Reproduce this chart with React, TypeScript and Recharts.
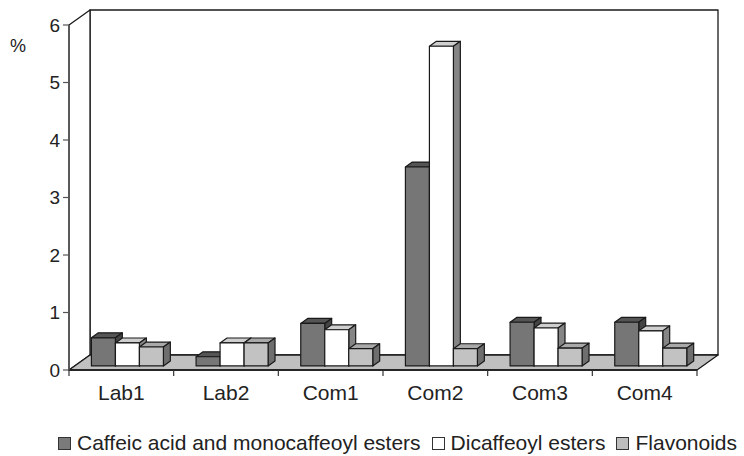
import React from 'react';
import { BarChart, Bar, XAxis, YAxis, ReferenceArea, Legend } from 'recharts';

const categories = ['Lab1', 'Lab2', 'Com1', 'Com2', 'Com3', 'Com4'];
const caffeicMono = [0.49, 0.16, 0.74, 3.46, 0.76, 0.76];
const dicaffeoyl = [0.4, 0.4, 0.63, 5.56, 0.66, 0.61];
const flavonoids = [0.33, 0.4, 0.3, 0.3, 0.31, 0.31];
const yTicks = [0, 1, 2, 3, 4, 5, 6];
const seriesNames = ['Caffeic acid and monocaffeoyl esters', 'Dicaffeoyl esters', 'Flavonoids'];

const data = categories.map((name, i) => ({
  name,
  caffeic: caffeicMono[i],
  dicaffeoyl: dicaffeoyl[i],
  flavonoids: flavonoids[i],
}));

const W = 744;
const H = 456;
const LEFT = 69;
const RIGHT = 47;
const TOP = 25;
const X_AXIS_H = 86;
const BAND = (W - LEFT - RIGHT) / categories.length;
// 3D depth of the floor
const DX = 21;
const DY = 15;
const FONT = '"Liberation Sans", Arial, sans-serif';
const EDGE = '#1a1a1a';

const palette = [
  { front: '#767676', top: '#555555', side: '#444444', legend: '#7a7a7a' },
  { front: '#ffffff', top: '#cfcfcf', side: '#858585', legend: '#ffffff' },
  { front: '#c2c2c2', top: '#a9a9a9', side: '#6e6e6e', legend: '#bdbdbd' },
];

const make3D = (c: { front: string; top: string; side: string }) => (props: any) => {
  const { x, y, width, height } = props;
  if (width == null || height == null) return null;
  const x0 = x + DX * 0.27;
  const y0 = y - DY * 0.27;
  const dx = DX * 0.33;
  const dy = DY * 0.33;
  const w = width;
  const h = height;
  return (
    <g stroke={EDGE} strokeWidth={1.2} strokeLinejoin='round'>
      <polygon
        points={`${x0},${y0} ${x0 + dx},${y0 - dy} ${x0 + w + dx},${y0 - dy} ${x0 + w},${y0}`}
        fill={c.top}
      />
      <polygon
        points={`${x0 + w},${y0} ${x0 + w + dx},${y0 - dy} ${x0 + w + dx},${y0 + h - dy} ${x0 + w},${y0 + h}`}
        fill={c.side}
      />
      <rect x={x0} y={y0} width={w} height={h} fill={c.front} />
    </g>
  );
};

const Walls = (props: any) => {
  const { x, y, width, height } = props;
  const b = y + height;
  return (
    <g stroke={EDGE} strokeWidth={1.3} strokeLinejoin='round'>
      <rect x={x + DX} y={y - DY} width={width} height={height} fill='#ffffff' />
      <polygon
        points={`${x},${y} ${x + DX},${y - DY} ${x + DX},${b - DY} ${x},${b}`}
        fill='#ffffff'
      />
      <polygon
        points={`${x},${b} ${x + width},${b} ${x + width + DX},${b - DY} ${x + DX},${b - DY}`}
        fill='#c0c0c0'
      />
    </g>
  );
};

const XTick = (props: any) => {
  const { x, y, payload, index } = props;
  const half = BAND / 2;
  return (
    <g>
      <line x1={x - half} y1={y} x2={x - half} y2={y + 6} stroke='#333' strokeWidth={1.2} />
      {index === categories.length - 1 && (
        <line x1={x + half} y1={y} x2={x + half} y2={y + 6} stroke='#333' strokeWidth={1.2} />
      )}
      <text x={x} y={y + 30} textAnchor='middle' fontSize={21} fill='#222' fontFamily={FONT}>
        {payload.value}
      </text>
    </g>
  );
};

const LegendContent = () => (
  <div
    style={{
      display: 'flex',
      alignItems: 'center',
      paddingLeft: 58,
      fontFamily: FONT,
      fontSize: 21,
      color: '#222',
      whiteSpace: 'nowrap',
    }}
  >
    {seriesNames.map((name, i) => (
      <div key={name} style={{ display: 'flex', alignItems: 'center', marginRight: 11 }}>
        <span
          style={{
            display: 'inline-block',
            width: 11,
            height: 11,
            border: '1.5px solid #333',
            background: palette[i].legend,
            marginRight: 6,
          }}
        />
        <span>{name}</span>
      </div>
    ))}
  </div>
);

export default function App() {
  return (
    <div style={{ position: 'absolute', left: 0, top: 0, width: W, height: H, background: '#fff' }}>
      <BarChart
        width={W}
        height={H}
        data={data}
        margin={{ top: TOP, right: RIGHT, left: 0, bottom: 0 }}
        barCategoryGap='16%'
        barGap={0}
      >
        <ReferenceArea y1={0} y2={6} shape={<Walls />} />
        <XAxis
          dataKey='name'
          height={X_AXIS_H}
          tickLine={false}
          tickSize={0}
          tickMargin={0}
          axisLine={{ stroke: EDGE, strokeWidth: 1.3 }}
          tick={<XTick />}
          interval={0}
        />
        <YAxis
          width={LEFT}
          domain={[0, 6]}
          ticks={yTicks}
          tickSize={6}
          tickMargin={3}
          axisLine={{ stroke: '#555', strokeWidth: 1.5 }}
          tickLine={{ stroke: '#555', strokeWidth: 1.2 }}
          tick={{ fontSize: 19, fill: '#222', fontFamily: FONT }}
          label={{
            content: ({ viewBox }: any) => (
              <text x={viewBox.x + 18} y={viewBox.y + 27} textAnchor='middle' fontSize={18} fill='#222' fontFamily={FONT}>
                %
              </text>
            ),
          }}
        />
        <Legend
          layout='horizontal'
          verticalAlign='middle'
          align='center'
          wrapperStyle={{ top: 431, left: 0, width: W }}
          content={<LegendContent />}
        />
        <Bar dataKey='caffeic' name={seriesNames[0]} shape={make3D(palette[0])} isAnimationActive={false} />
        <Bar dataKey='dicaffeoyl' name={seriesNames[1]} shape={make3D(palette[1])} isAnimationActive={false} />
        <Bar dataKey='flavonoids' name={seriesNames[2]} shape={make3D(palette[2])} isAnimationActive={false} />
      </BarChart>
    </div>
  );
}
